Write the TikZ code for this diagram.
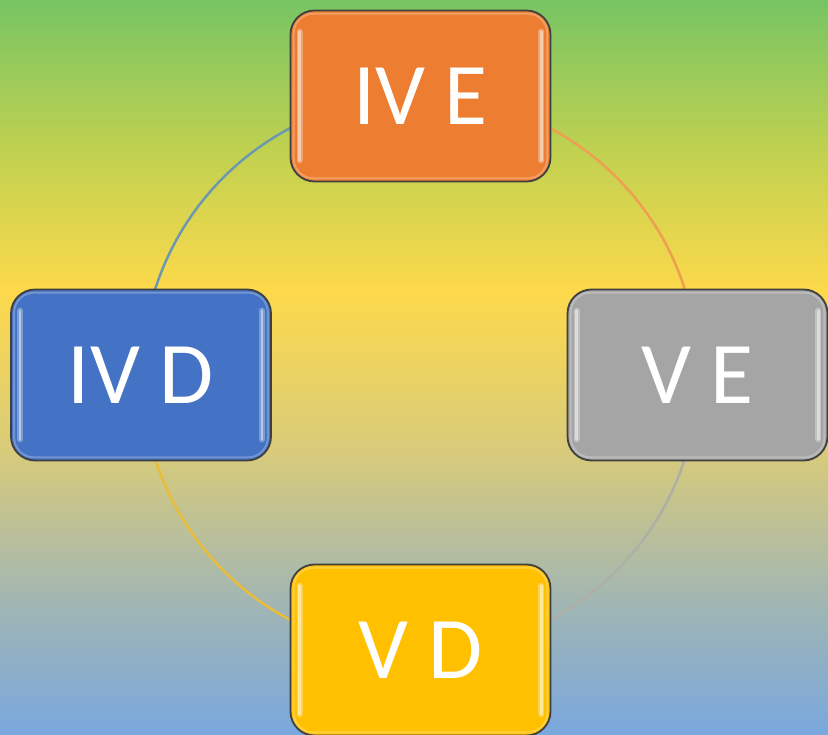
\documentclass[tikz,border=0pt]{standalone}
\usepackage{fontspec}
\setmainfont{Carlito}
\usetikzlibrary{calc}
\definecolor{bgA}{HTML}{77C463}
\definecolor{bgB}{HTML}{C0D150}
\definecolor{bgC}{HTML}{FDD94B}
\definecolor{bgD}{HTML}{D8CB7A}
\definecolor{bgE}{HTML}{A2B6B2}
\definecolor{bgF}{HTML}{79A7DE}
\definecolor{cOrange}{HTML}{ED7D31}
\definecolor{cBlue}{HTML}{4472C4}
\definecolor{cGrey}{HTML}{A5A5A5}
\definecolor{cGold}{HTML}{FFC000}
\definecolor{arcBlue}{HTML}{6E98B0}
\definecolor{arcOrange}{HTML}{EDA050}
\definecolor{arcGrey}{HTML}{AEB0A8}
\definecolor{arcGold}{HTML}{E9BC3A}
\newcommand\glossbox[1]{%
  \draw[white,opacity=0.25,line width=2pt,rounded corners=20pt]
    ([shift={(4pt,-4pt)}]#1.north west) rectangle ([shift={(-4pt,4pt)}]#1.south east);
  \draw[white,opacity=0.3,line width=6pt,line cap=round]
    ([shift={(10pt,-22pt)}]#1.north west) -- ([shift={(10pt,22pt)}]#1.south west);
  \draw[white,opacity=0.45,line width=2.5pt,line cap=round]
    ([shift={(10pt,-22pt)}]#1.north west) -- ([shift={(10pt,22pt)}]#1.south west);
  \draw[white,opacity=0.3,line width=6pt,line cap=round]
    ([shift={(-10pt,-22pt)}]#1.north east) -- ([shift={(-10pt,22pt)}]#1.south east);
  \draw[white,opacity=0.45,line width=2.5pt,line cap=round]
    ([shift={(-10pt,-22pt)}]#1.north east) -- ([shift={(-10pt,22pt)}]#1.south east);
}
\tikzset{
  card/.style={draw=black!75,line width=1.8pt,rounded corners=24pt,
    minimum width=260pt,minimum height=171pt,inner sep=0pt,
    text=white,font=\fontsize{88}{100}\selectfont},
  ring/.style={line width=2.5pt}
}
\begin{document}
\begin{tikzpicture}[x=1pt,y=-1pt]
\useasboundingbox (0,0) rectangle (828,735);
\shade[top color=bgA,bottom color=bgB] (0,0) rectangle (828,150.5);
\shade[top color=bgB,bottom color=bgC] (0,150) rectangle (828,290.5);
\shade[top color=bgC,bottom color=bgD] (0,290) rectangle (828,450.5);
\shade[top color=bgD,bottom color=bgE] (0,450) rectangle (828,600.5);
\shade[top color=bgE,bottom color=bgF] (0,600) rectangle (828,735);
\coordinate (c) at (420,374);
\draw[ring,arcBlue] (c) ++(180:278) arc[start angle=180,end angle=270,radius=278];
\draw[ring,arcOrange] (c) ++(270:278) arc[start angle=270,end angle=360,radius=278];
\draw[ring,arcGrey] (c) ++(0:278) arc[start angle=0,end angle=90,radius=278];
\draw[ring,arcGold] (c) ++(90:278) arc[start angle=90,end angle=180,radius=278];
\node[card,fill=cOrange] (ive) at (420.5,96) {IV E};
\node[card,fill=cBlue] (ivd) at (141,375) {IV D};
\node[card,fill=cGrey] (ve) at (697.5,375) {V E};
\node[card,fill=cGold] (vd) at (420.5,650) {V D};
\glossbox{ive}
\glossbox{ivd}
\glossbox{ve}
\glossbox{vd}
\end{tikzpicture}
\end{document}
